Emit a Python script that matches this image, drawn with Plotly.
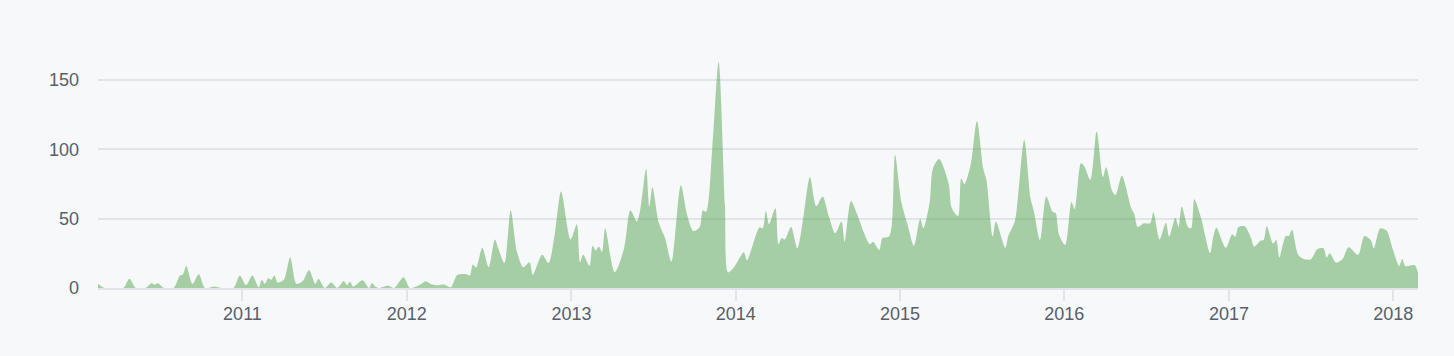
import pandas as pd
import plotly.graph_objects as go

# weekly commit activity: week offset from first week (2010-02-14) and commits
start_week = "2010-02-14"
weeks = [0, 2, 8, 10, 12, 15, 17, 18, 19, 21, 24, 26, 27, 28, 30, 32, 34, 37, 39, 43,
         45, 47, 49, 51, 52, 53, 54, 55, 56, 57, 59, 61, 63, 65, 67, 69, 70, 72, 74, 76,
         78, 79, 80, 81, 84, 86, 87, 88, 89, 92, 94, 97, 99, 101, 103, 104, 106, 108, 110, 112,
         113, 114, 117, 118, 119, 120, 122, 124, 126, 127, 129, 131, 133, 135, 137, 138, 141, 143, 145, 147,
         150, 152, 153, 154, 156, 157, 158, 159, 160, 161, 164, 167, 169, 171, 172, 174, 175, 176, 178, 180,
         182, 185, 187, 189, 191, 192, 193, 195, 197, 199, 200, 202, 205, 206, 210, 211, 212, 213, 215, 216,
         217, 218, 220, 222, 224, 226, 228, 230, 232, 234, 236, 237, 239, 241, 243, 245, 246, 248, 249, 251,
         252, 253, 255, 257, 259, 261, 262, 264, 265, 267, 270, 271, 273, 274, 275, 277, 279, 281, 282, 284,
         285, 288, 289, 291, 294, 296, 297, 299, 301, 303, 304, 305, 307, 309, 310, 312, 313, 315, 317, 319,
         320, 322, 323, 325, 328, 329, 330, 332, 334, 335, 337, 339, 340, 342, 343, 344, 346, 347, 348, 350,
         353, 354, 355, 358, 360, 361, 362, 364, 366, 367, 369, 370, 371, 373, 374, 375, 377, 378, 379, 381,
         383, 385, 387, 389, 390, 391, 393, 395, 397, 400, 402, 404, 405, 407, 409, 411, 413, 414, 415, 418,
         419]
commits = [3, 0, 0, 6.7, 0, 0, 3.5, 2.5, 3.5, 0, 0, 9, 10, 16, 3, 10, 0, 1, 0, 0,
           9, 2, 9, 0.5, 6, 3, 7, 6, 9, 4, 6, 22, 3, 5, 13, 3, 6.7, 0, 4, 0,
           5, 2, 4.5, 1, 5.5, 0, 3.6, 1, 0, 1.7, 0, 7.7, 0, 1, 3.5, 4.8, 2.5, 2, 2.4, 0.5,
           4.8, 9.4, 10, 9, 17, 14.7, 29, 15, 35, 29, 18, 56, 26, 15, 18.5, 9.4, 24, 18, 39, 69.5,
           35, 46, 18.5, 24, 16, 30.5, 27, 30, 26, 43, 11.3, 28.6, 56, 48, 55, 86, 58.7, 72.6, 47, 36,
           19, 74, 52.7, 41, 44, 56, 55, 101, 163, 60, 11.3, 15.4, 25.7, 20, 43.8, 43, 55.6, 46, 57.5, 31.5,
           36, 35, 44, 28.6, 52.7, 80, 59, 66, 51.5, 39.4, 48, 33.4, 62.8, 53, 40.6, 31.5, 33.4, 27.4, 36, 37,
           45.5, 96, 62, 45.5, 30.5, 50, 43, 62, 86, 93, 75.5, 57.5, 52, 79, 75, 88.7, 120.5, 86, 78, 37,
           48, 29, 38, 48, 106.8, 64.7, 56, 34.6, 66, 55, 54, 38.7, 31, 62, 57, 90, 88, 78, 113, 80,
           87, 69.5, 67, 81, 57.5, 53, 44, 46.7, 46.7, 54.6, 35, 47, 37, 50.7, 44, 58.7, 44, 43, 64, 51.5,
           25, 37, 43.5, 29, 38.7, 37, 44, 44.5, 36, 29.8, 34, 34.6, 44.5, 32, 34.6, 22, 37.5, 37.5, 42, 23.8,
           20.7, 20.7, 28, 28.6, 22, 25, 18.3, 20.7, 29.3, 23.8, 37.5, 34.6, 28.6, 43, 41.4, 28, 15.9, 21, 15.9, 16.4,
           10.6]

year_ticks = ["2011-01-01", "2012-01-01", "2013-01-01", "2014-01-01",
              "2015-01-01", "2016-01-01", "2017-01-01", "2018-01-01"]
year_labels = ["2011", "2012", "2013", "2014", "2015", "2016", "2017", "2018"]
y_ticks = [0, 50, 100, 150]

dates = pd.Timestamp(start_week) + pd.to_timedelta([w * 7 for w in weeks], unit="D")

fig = go.Figure()
fig.add_trace(go.Scatter(
    x=dates, y=commits, mode="lines", fill="tozeroy",
    line=dict(shape="spline", smoothing=0.8, width=0, color="rgba(68,155,59,0.45)"),
    fillcolor="rgba(68,155,59,0.45)", hoverinfo="skip", showlegend=False,
))

axis_font = dict(family="Liberation Sans, Arial, sans-serif", size=18, color="#586069")
fig.update_layout(
    width=1454, height=356,
    margin=dict(l=98, r=36, t=60, b=68),
    paper_bgcolor="#f6f8fa", plot_bgcolor="#f6f8fa",
    xaxis=dict(
        range=[dates[0], dates[-1]], tickvals=year_ticks, ticktext=year_labels,
        showgrid=False, zeroline=False, showline=True, linecolor="#e1e4e8", linewidth=2,
        ticks="outside", ticklen=11, tickwidth=2, tickcolor="#e1e4e8",
        tickfont=axis_font, fixedrange=True, ticklabelstandoff=-3,
    ),
    yaxis=dict(
        range=[0, 164.4], tickvals=y_ticks, showgrid=True, gridcolor="#e1e4e8", gridwidth=1.5,
        zeroline=False, showline=False, ticks="", tickfont=axis_font,
        ticklabelstandoff=18, fixedrange=True,
    ),
)
fig.write_html(
    "out.html",
    config={"displayModeBar": False},
    post_script="document.body.style.margin='0';document.body.style.background='#f6f8fa';"
                "document.body.style.overflow='hidden';",
)
